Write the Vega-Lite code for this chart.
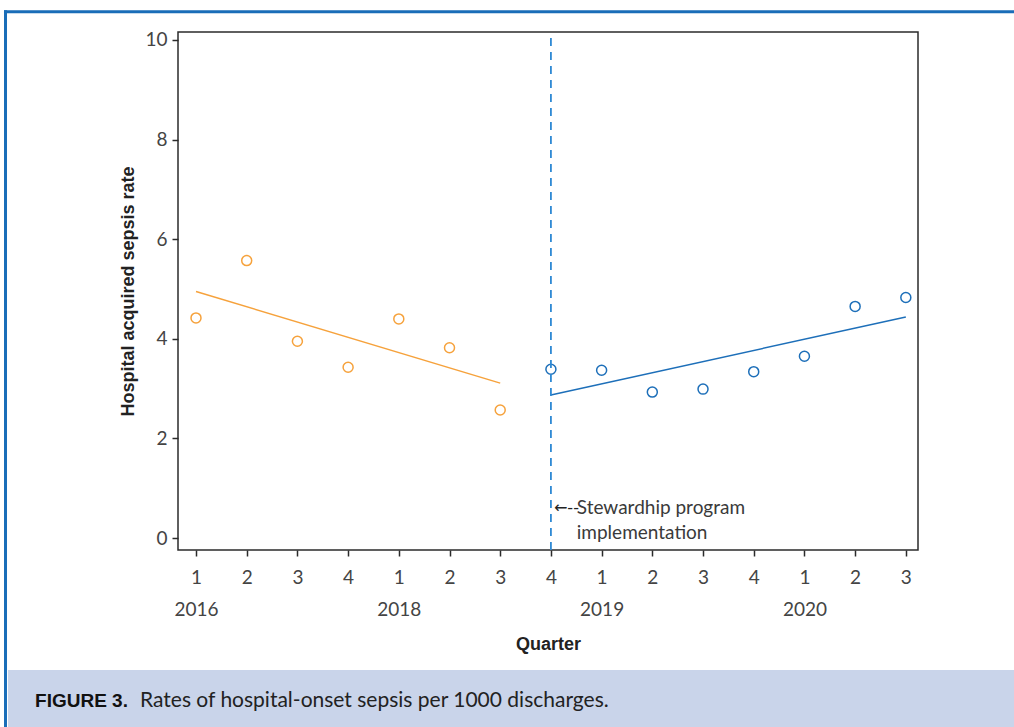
{
  "$schema": "https://vega.github.io/schema/vega-lite/v6.json",
  "width": 740,
  "height": 518,
  "autosize": {"type": "none"},
  "padding": {"left": 178, "top": 32, "right": 96, "bottom": 177},
  "background": "white",
  "config": {
    "view": {"stroke": "#2b2b2b", "strokeWidth": 1.5},
    "axis": {
      "domain": false,
      "grid": false,
      "ticks": true,
      "tickSize": 6,
      "tickColor": "#2b2b2b",
      "tickWidth": 1.5,
      "labelFont": "Lato",
      "labelFontSize": 19,
      "labelColor": "#444444",
      "labelFlush": false,
      "labelOverlap": false,
      "titleFont": "Liberation Sans",
      "titleFontWeight": "bold",
      "titleFontSize": 18,
      "titleColor": "#222222"
    }
  },
  "datasets": {
    "points": [
      {"x": 1, "y": 4.42, "period": "pre"},
      {"x": 2, "y": 5.57, "period": "pre"},
      {"x": 3, "y": 3.95, "period": "pre"},
      {"x": 4, "y": 3.43, "period": "pre"},
      {"x": 5, "y": 4.40, "period": "pre"},
      {"x": 6, "y": 3.82, "period": "pre"},
      {"x": 7, "y": 2.57, "period": "pre"},
      {"x": 8, "y": 3.39, "period": "post"},
      {"x": 9, "y": 3.37, "period": "post"},
      {"x": 10, "y": 2.93, "period": "post"},
      {"x": 11, "y": 2.99, "period": "post"},
      {"x": 12, "y": 3.34, "period": "post"},
      {"x": 13, "y": 3.65, "period": "post"},
      {"x": 14, "y": 4.65, "period": "post"},
      {"x": 15, "y": 4.83, "period": "post"}
    ],
    "fit": [
      {"x": 1, "y": 4.95, "period": "pre"},
      {"x": 7, "y": 3.11, "period": "pre"},
      {"x": 8, "y": 2.87, "period": "post"},
      {"x": 15, "y": 4.44, "period": "post"}
    ],
    "one": [{"k": 1}]
  },
  "layer": [
    {
      "encoding": {
        "x": {
          "field": "x",
          "type": "quantitative",
          "title": "Quarter",
          "scale": {"domain": [0.645, 15.24], "nice": false, "zero": false},
          "axis": {
            "values": [1, 2, 3, 4, 5, 6, 7, 8, 9, 10, 11, 12, 13, 14, 15],
            "labelPadding": 12,
            "labelLineHeight": 32,
            "titlePadding": 16,
            "labelExpr": "datum.value == 1 ? ['1', '2016'] : datum.value == 5 ? ['1', '2018'] : datum.value == 9 ? ['1', '2019'] : datum.value == 13 ? ['1', '2020'] : '' + (((datum.value - 1) % 4) + 1)"
          }
        },
        "y": {
          "field": "y",
          "type": "quantitative",
          "title": "Hospital acquired sepsis rate",
          "scale": {"domain": [-0.24, 10.16], "nice": false, "zero": false},
          "axis": {"values": [0, 2, 4, 6, 8, 10], "labelPadding": 5, "titlePadding": 7, "labelAngle": 0}
        },
        "color": {"field": "period", "type": "nominal", "scale": {"domain": ["pre", "post"], "range": ["#f6a23c", "#1d6fb9"]}, "legend": null}
      },
      "layer": [
        {
          "data": {"name": "fit"},
          "mark": {"type": "line", "strokeWidth": 1.5}
        },
        {
          "data": {"name": "points"},
          "mark": {"type": "point", "shape": "circle", "filled": false, "size": 100, "strokeWidth": 1.5, "opacity": 1}
        }
      ]
    },
    {
      "data": {"name": "one"},
      "layer": [
        {
          "mark": {"type": "rect", "fill": "#c9d4ea", "clip": false},
          "encoding": {
            "x": {"datum": -2.707},
            "x2": {"datum": 17.2},
            "y": {"datum": -2.65},
            "y2": {"datum": -3.95}
          }
        },
        {
          "mark": {"type": "rule", "color": "#1a6db8", "strokeWidth": 3, "clip": false},
          "encoding": {
            "x": {"datum": -2.787},
            "x2": {"datum": 17.2},
            "y": {"datum": 10.568}
          }
        },
        {
          "mark": {"type": "rule", "color": "#1a6db8", "strokeWidth": 3, "clip": false},
          "encoding": {
            "x": {"datum": -2.757},
            "y": {"datum": 10.598},
            "y2": {"datum": -3.95}
          }
        },
        {
          "mark": {"type": "rule", "color": "#2f8ad4", "strokeWidth": 1.8, "strokeDash": [8, 6]},
          "encoding": {
            "x": {"datum": 8},
            "y": {"datum": -0.24},
            "y2": {"datum": 10.16}
          }
        },
        {
          "mark": {"type": "text", "text": "←--", "align": "left", "baseline": "middle", "fontSize": 16, "font": "DejaVu Sans", "color": "#222222"},
          "encoding": {
            "x": {"datum": 8.06},
            "y": {"datum": 0.61}
          }
        },
        {
          "mark": {"type": "text", "text": "Stewardhip program\nimplementation", "lineBreak": "\n", "lineHeight": 25, "align": "left", "baseline": "middle", "fontSize": 19, "font": "Lato", "color": "#3a3a3a"},
          "encoding": {
            "x": {"datum": 8.51},
            "y": {"datum": 0.6}
          }
        },
        {
          "mark": {"type": "text", "text": "FIGURE 3.", "align": "left", "baseline": "middle", "fontSize": 19, "font": "Liberation Sans", "fontWeight": "bold", "color": "#111111", "clip": false},
          "encoding": {
            "x": {"datum": -2.175},
            "y": {"datum": -3.273}
          }
        },
        {
          "mark": {"type": "text", "text": "Rates of hospital-onset sepsis per 1000 discharges.", "align": "left", "baseline": "middle", "fontSize": 21, "font": "Lato", "color": "#222222", "clip": false},
          "encoding": {
            "x": {"datum": -0.104},
            "y": {"datum": -3.273}
          }
        }
      ],
      "encoding": {
        "x": {"type": "quantitative", "scale": {"domain": [0.645, 15.24], "nice": false, "zero": false}, "axis": null},
        "y": {"type": "quantitative", "scale": {"domain": [-0.24, 10.16], "nice": false, "zero": false}, "axis": null}
      }
    }
  ],
  "resolve": {"scale": {"x": "independent", "y": "independent"}}
}
